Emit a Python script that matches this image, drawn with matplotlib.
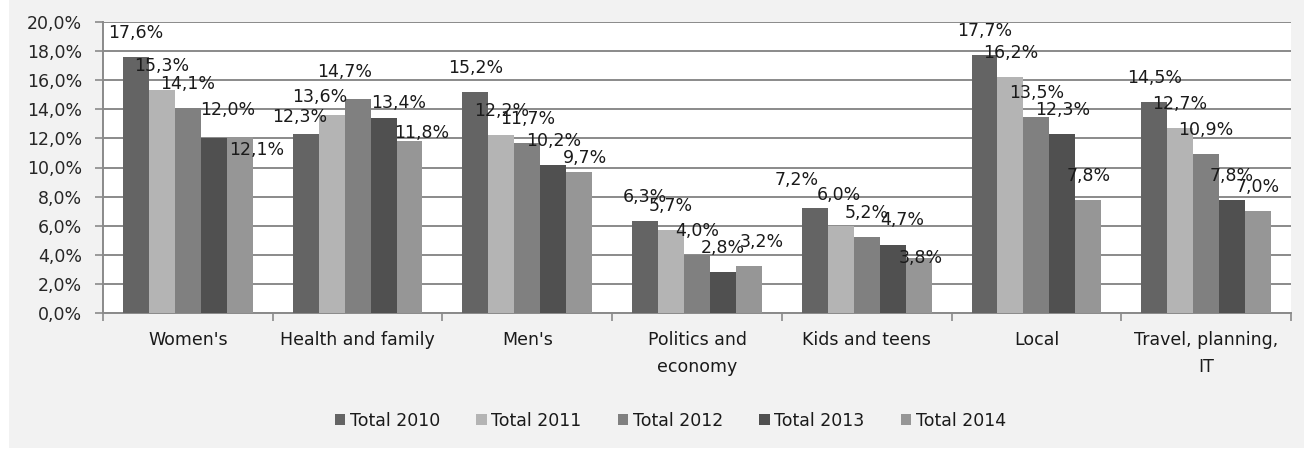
import matplotlib.pyplot as plt
from matplotlib.patches import Rectangle
import numpy as np

categories = ["Women's", "Health and family", "Men's", "Politics and\neconomy",
              "Kids and teens", "Local", "Travel, planning,\nIT"]
series_names = ["Total 2010", "Total 2011", "Total 2012", "Total 2013", "Total 2014"]
total_2010 = [17.6, 12.3, 15.2, 6.3, 7.2, 17.7, 14.5]
total_2011 = [15.3, 13.6, 12.2, 5.7, 6.0, 16.2, 12.7]
total_2012 = [14.1, 14.7, 11.7, 4.0, 5.2, 13.5, 10.9]
total_2013 = [12.0, 13.4, 10.2, 2.8, 4.7, 12.3, 7.8]
total_2014 = [12.1, 11.8, 9.7, 3.2, 3.8, 7.8, 7.0]
y_ticks = [0, 2, 4, 6, 8, 10, 12, 14, 16, 18, 20]

series = [total_2010, total_2011, total_2012, total_2013, total_2014]
colors = ['#646464', '#b4b4b4', '#808080', '#505050', '#969696']

# data labels sit ~24 px above the bar top; a few were dragged elsewhere
# (series, category) -> (dx, dy) in pixels
label_nudge = {
    (3, 0): (14, 28), (4, 0): (17, -13),
    (0, 1): (-6, 17), (1, 1): (-12, 18), (2, 1): (-13, 27), (3, 1): (15, 15), (4, 1): (12, 8),
    (4, 2): (6, 14),
    (4, 3): (13, 24),
    (0, 4): (-18, 28), (1, 4): (-2, 31), (3, 4): (10, 25), (4, 4): (2, 0),
}

def pct(v):
    return f"{v:.1f}%".replace('.', ',')

FS = 12.5
PX = 0.72  # points per pixel at dpi 100

fig = plt.figure(figsize=(13.04, 4.5), dpi=100, facecolor='white')
# grey chart area, with a thin white strip on the left and bottom
fig.patches.append(Rectangle((9 / 1304, 2 / 450), 1 - 9 / 1304, 1 - 2 / 450,
                             transform=fig.transFigure, facecolor='#f2f2f2',
                             edgecolor='none', zorder=-1))

ax = fig.add_axes([103 / 1304, 137 / 450, 1188 / 1304, 291 / 450])
ax.set_facecolor('white')

x = np.arange(len(categories))
width = 0.153
for i, (vals, name, c) in enumerate(zip(series, series_names, colors)):
    pos = x + (i - 2) * width
    ax.bar(pos, vals, width, color=c, label=name, zorder=3)
    for j, (px, v) in enumerate(zip(pos, vals)):
        dx, dy = label_nudge.get((i, j), (0, 24))
        ax.annotate(pct(v), (px, v), xytext=(dx * PX, dy * PX), textcoords='offset points',
                    ha='center', va='center', fontsize=FS, color='#1a1a1a', zorder=4)

ax.set_xlim(-0.5, len(categories) - 0.5)
ax.set_ylim(0, 20)
ax.set_yticks(y_ticks)
ax.set_yticklabels([pct(t) for t in y_ticks])
ax.yaxis.grid(True, color='#8a8a8a', linewidth=1.4, zorder=1)
ax.set_axisbelow(True)

ax.set_xticks(x)
ax.set_xticklabels(categories, linespacing=1.65)
ax.set_xticks(np.arange(-0.5, len(categories)), minor=True)
ax.tick_params(axis='x', which='major', length=0, pad=13, labelsize=FS, labelcolor='#1a1a1a')
ax.tick_params(axis='x', which='minor', length=6, width=1.2, color='#8a8a8a', direction='out')
ax.tick_params(axis='y', length=6, width=1.2, color='#8a8a8a', pad=9,
               labelsize=FS, labelcolor='#262626')

for s in ['top', 'right']:
    ax.spines[s].set_visible(False)
for s in ['left', 'bottom']:
    ax.spines[s].set_color('#8a8a8a')
    ax.spines[s].set_linewidth(1.4)

fig.legend(loc='center', bbox_to_anchor=(0.514, 1 - 421 / 450), ncol=5, frameon=False,
           fontsize=FS, handlelength=0.6, handleheight=0.6, handletextpad=0.25,
           columnspacing=2.1, labelcolor='#1a1a1a')

fig.savefig('out.png', dpi=100, facecolor=fig.get_facecolor())
